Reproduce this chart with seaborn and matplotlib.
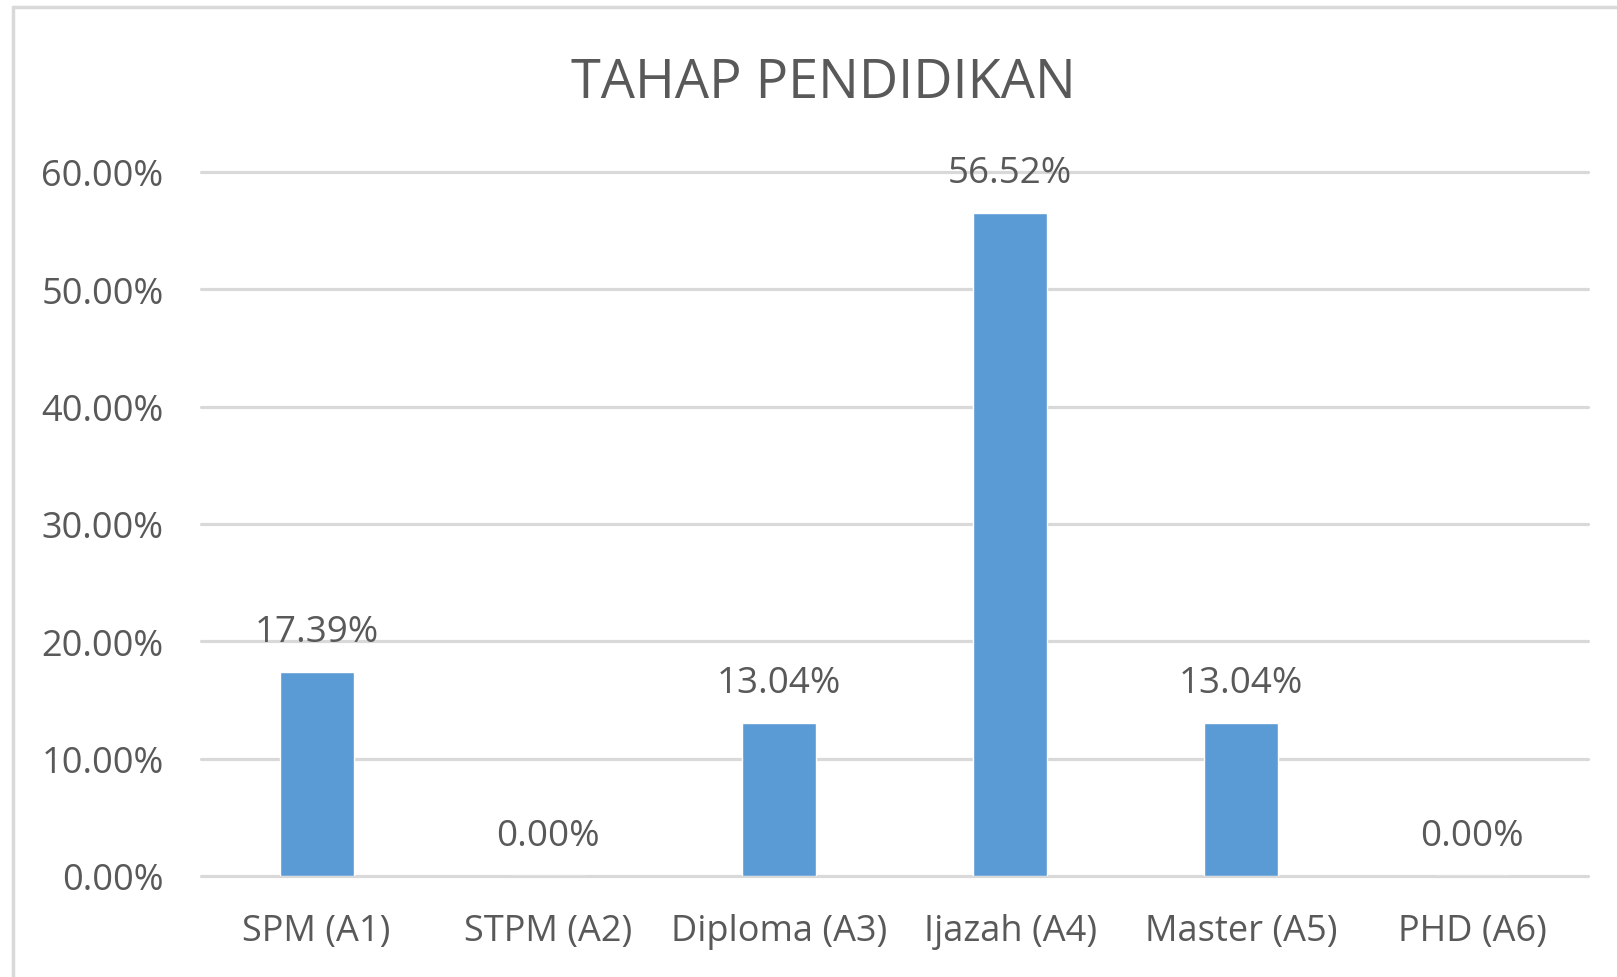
import matplotlib
matplotlib.use("Agg")
import matplotlib.pyplot as plt
import seaborn as sns
import pandas as pd
from matplotlib.lines import Line2D
from matplotlib.ticker import FuncFormatter

categories = ["SPM (A1)", "STPM (A2)", "Diploma (A3)", "Ijazah (A4)", "Master (A5)", "PHD (A6)"]
values = [17.39, 0.00, 13.04, 56.52, 13.04, 0.00]
yticks = [0, 10, 20, 30, 40, 50, 60]

df = pd.DataFrame({"tahap": categories, "peratus": values})

sns.set_theme(style="white")
plt.rcParams["font.family"] = ["Open Sans", "DejaVu Sans"]

text_color = "#595959"
grid_color = "#d9d9d9"

fig = plt.figure(figsize=(16.17, 9.78), dpi=100)
ax = fig.add_axes([201 / 1617, 1 - 877 / 978, (1588 - 201) / 1617, (877 - 173) / 978])

sns.barplot(data=df, x="tahap", y="peratus", color="#5b9bd5", width=0.32,
            saturation=1, ax=ax, zorder=3)

ax.set_ylim(0, 60)
ax.set_xlim(-0.5, len(categories) - 0.5)
ax.set_yticks(yticks)
ax.yaxis.set_major_formatter(FuncFormatter(lambda v, p: f"{v:.2f}%"))
for y in yticks:
    ax.axhline(y, color=grid_color, lw=2.3, zorder=1, clip_on=False)

for s in ax.spines.values():
    s.set_visible(False)
ax.tick_params(axis="both", length=0, colors=text_color)
ax.tick_params(axis="y", pad=27, labelsize=26)
ax.tick_params(axis="x", pad=27, labelsize=26)
ax.set_xlabel("")
ax.set_ylabel("")

for i, v in enumerate(values):
    ax.annotate(f"{v:.2f}%", (i, v), xytext=(0, 29), textcoords="offset points",
                ha="center", va="center", fontsize=26.5, color=text_color)

fig.text(823 / 1617, 1 - 83 / 978, "TAHAP PENDIDIKAN", ha="center", va="center",
         fontsize=39, color=text_color)

# chart frame (left and top edges visible)
fig.add_artist(Line2D([13 / 1617, 13 / 1617], [0, 1 - 8 / 978], color=grid_color, lw=2.5))
fig.add_artist(Line2D([13 / 1617, 1], [1 - 8 / 978, 1 - 8 / 978], color=grid_color, lw=2.5))

fig.savefig("out.png", dpi=100)
